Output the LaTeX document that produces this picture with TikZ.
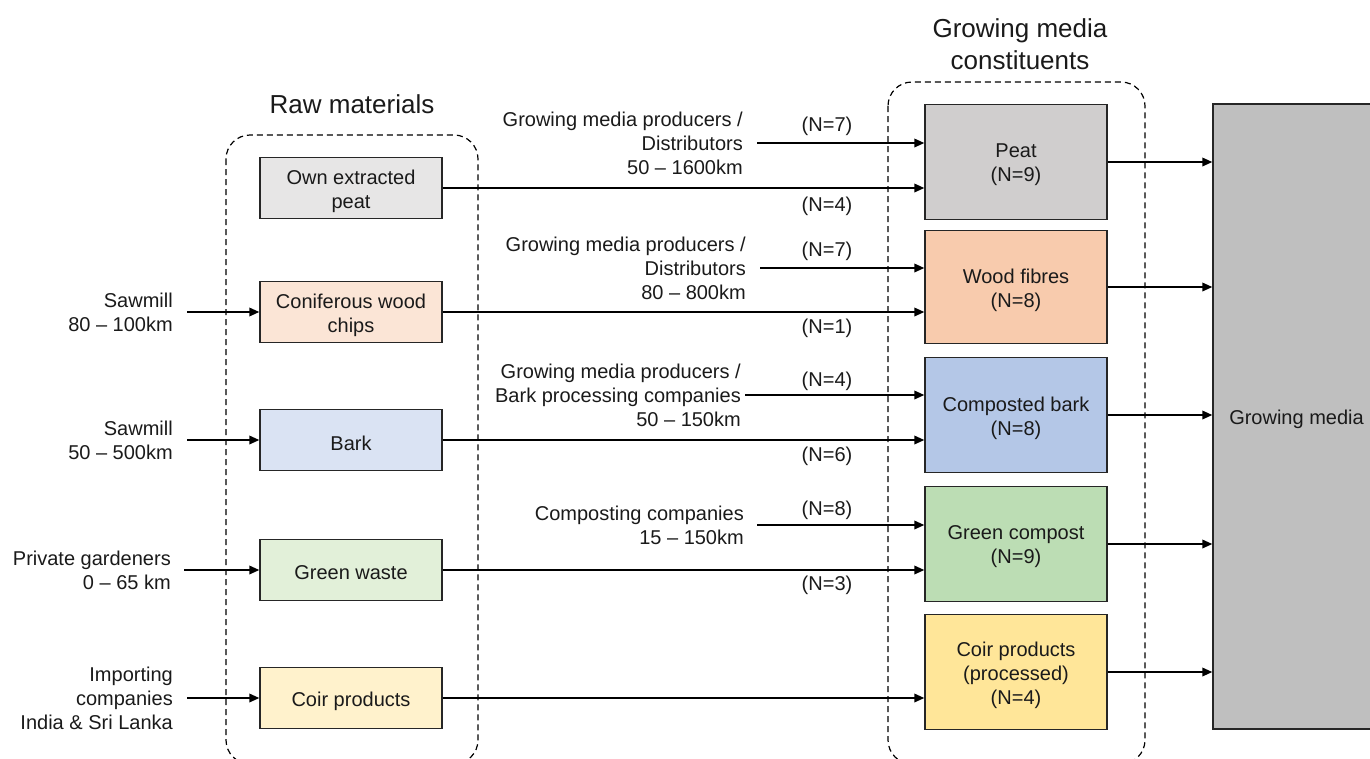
\documentclass[tikz,border=0pt]{standalone}
\usepackage{fontspec}
\setmainfont{Liberation Sans}
\usetikzlibrary{arrows.meta}
\definecolor{cGrayL}{HTML}{E7E6E6}
\definecolor{cPeachL}{HTML}{FBE5D6}
\definecolor{cBlueL}{HTML}{DAE3F3}
\definecolor{cGreenL}{HTML}{E2F0D9}
\definecolor{cYellowL}{HTML}{FFF2CC}
\definecolor{cGray}{HTML}{D0CECE}
\definecolor{cPeach}{HTML}{F8CBAD}
\definecolor{cBlue}{HTML}{B4C7E7}
\definecolor{cGreen}{HTML}{BCDDB4}
\definecolor{cYellow}{HTML}{FFE699}
\definecolor{cGM}{HTML}{BFBFBF}
\definecolor{txt}{HTML}{1A1A1A}
\newcommand\bodyfont{\fontsize{20}{24}\selectfont}
\newcommand\titlefont{\fontsize{26}{32}\selectfont}
\tikzset{
  box/.style={draw=black!85, line width=1.3pt, minimum width=182pt, inner sep=0pt},
  boxtext/.style={align=center, font=\bodyfont, text=txt, inner sep=0pt, yshift=-3pt},
  cbox/.style={box, minimum height=115pt},
  rbox/.style={box, minimum height=61pt},
  arr/.style={line width=1.8pt, -{Triangle[length=10pt,width=8.5pt]}},
  src/.style={align=right, inner sep=0pt, anchor=east, font=\bodyfont, text=txt},
  nlab/.style={inner sep=0pt, font=\bodyfont, text=txt},
  container/.style={dashed, line width=1.2pt, dash pattern=on 6pt off 4pt, rounded corners=24pt},
  ttl/.style={align=center, inner sep=0pt, font=\titlefont, text=txt}
}
\begin{document}
\begin{tikzpicture}[x=1pt,y=-1pt]
\useasboundingbox (0,0) rectangle (1370,758);
\clip (0,0) rectangle (1370,758);

% containers
\draw[container] (226,135) rectangle (478,764);
\draw[container] (888,82) rectangle (1145,764);
\node[ttl] (t1) at (352,104) {Raw materials};
\node[ttl] (t2) at (1020,44) {Growing media\\constituents};

% raw materials
\node[rbox, fill=cGrayL,   label={[boxtext]center:{Own extracted\\peat}}]    (oep)  at (351,188) {};
\node[rbox, fill=cPeachL,  label={[boxtext]center:{Coniferous wood\\chips}}] (cw)   at (351,312) {};
\node[rbox, fill=cBlueL,   label={[boxtext]center:{Bark}}]                   (bark) at (351,440) {};
\node[rbox, fill=cGreenL,  label={[boxtext]center:{Green waste}}]            (gw)   at (351,570) {};
\node[rbox, fill=cYellowL, label={[boxtext]center:{Coir products}}]          (coir) at (351,698) {};

% constituents
\node[cbox, fill=cGray,   label={[boxtext]center:{Peat\\(N=9)}}]           (peat) at (1016,162) {};
\node[cbox, fill=cPeach, minimum height=113pt, label={[boxtext]center:{Wood fibres\\(N=8)}}] (wf) at (1016,287) {};
\node[cbox, fill=cBlue,   label={[boxtext]center:{Composted bark\\(N=8)}}] (cb)   at (1016,415) {};
\node[cbox, fill=cGreen,  label={[boxtext]center:{Green compost\\(N=9)}}]  (gc)   at (1016,544) {};
\node[cbox, fill=cYellow, label={[boxtext]center:{Coir products\\(processed)\\(N=4)}}] (cp) at (1016,672) {};

% growing media
\node[box, fill=cGM, minimum width=167pt, minimum height=625pt, label={[boxtext]center:{Growing media}}] (gm) at (1296.5,416.5) {};

% sources (middle)
\node[src] (s1) at (743,143) {Growing media producers /\\Distributors\\50 – 1600km};
\node[src] (s2) at (746,268) {Growing media producers /\\Distributors\\80 – 800km};
\node[src] (s3) at (741,395) {Growing media producers /\\Bark processing companies\\50 – 150km};
\node[src] (s4) at (744,525) {Composting companies\\15 – 150km};

% sources (left)
\node[src] (l1) at (173,312) {Sawmill\\80 – 100km};
\node[src] (l2) at (173,440) {Sawmill\\50 – 500km};
\node[src] (l3) at (171,570) {Private gardeners\\0 – 65 km};
\node[src] (l4) at (173,698) {Importing\\companies\\India \& Sri Lanka};

% N labels
\node[nlab] (n1) at (827,126) {(N=7)};
\node[nlab] (n2) at (827,206) {(N=4)};
\node[nlab] (n3) at (827,251) {(N=7)};
\node[nlab] (n4) at (827,328) {(N=1)};
\node[nlab] (n5) at (827,381) {(N=4)};
\node[nlab] (n6) at (827,456) {(N=6)};
\node[nlab] (n7) at (827,510) {(N=8)};
\node[nlab] (n8) at (827,585) {(N=3)};

% left arrows
\draw[arr, shorten <=14pt] (l1.east) -- (l1.east -| cw.west);
\draw[arr, shorten <=14pt] (l2.east) -- (l2.east -| bark.west);
\draw[arr, shorten <=13pt] (l3.east) -- (l3.east -| gw.west);
\draw[arr, shorten <=14pt] (l4.east) -- (l4.east -| coir.west);

% middle upper arrows
\draw[arr, shorten <=14pt] (s1.east) -- (s1.east -| peat.west);
\draw[arr, shorten <=14pt] (s2.east) -- (s2.east -| wf.west);
\draw[arr, shorten <=4pt]  (s3.east) -- (s3.east -| cb.west);
\draw[arr, shorten <=13pt] (s4.east) -- (s4.east -| gc.west);

% raw to constituents
\draw[arr] (oep.east)  -- (oep.east -| peat.west);
\draw[arr] (cw.east)   -- (cw.east -| wf.west);
\draw[arr] (bark.east) -- (bark.east -| cb.west);
\draw[arr] (gw.east)   -- (gw.east -| gc.west);
\draw[arr] (coir.east) -- (coir.east -| cp.west);

% constituents to growing media
\draw[arr] (peat.east) -- (peat.east -| gm.west);
\draw[arr] (wf.east)   -- (wf.east -| gm.west);
\draw[arr] (cb.east)   -- (cb.east -| gm.west);
\draw[arr] (gc.east)   -- (gc.east -| gm.west);
\draw[arr] (cp.east)   -- (cp.east -| gm.west);
\end{tikzpicture}
\end{document}
